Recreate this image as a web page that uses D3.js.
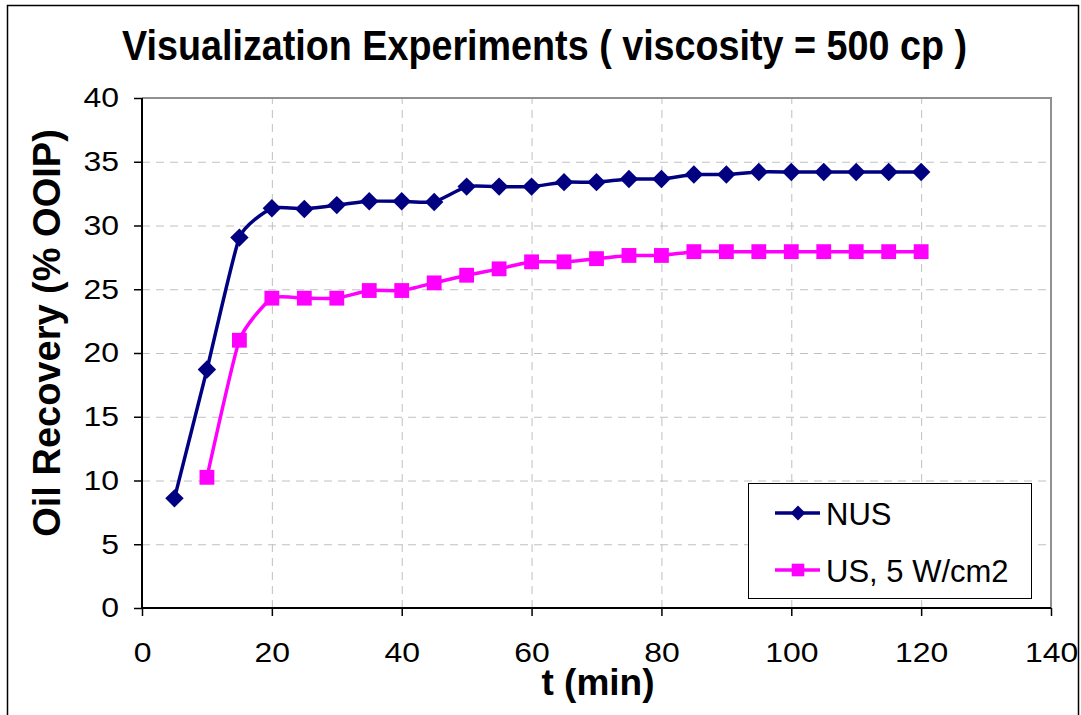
<!DOCTYPE html>
<html lang="en">
<head>
    <meta charset="UTF-8">
    <title>Visualization Experiments</title>
    <script src="https://d3js.org/d3.v7.min.js"></script>
    <style>
        body { margin: 0; background: #fff; }
        svg { font-family: Arial, "Liberation Sans", sans-serif; }
    </style>
</head>
<body>
    <div id="chart"></div>
    <script>
        // time in minutes
        const times = [5, 10, 15, 20, 25, 30, 35, 40, 45, 50, 55, 60, 65, 70, 75, 80, 85, 90, 95, 100, 105, 110, 115, 120];
        const nus = [8.6, 18.7, 29.05, 31.35, 31.3, 31.6, 31.9, 31.9, 31.85, 33.05, 33.05, 33.05, 33.4, 33.4, 33.65, 33.65, 34.0, 34.0, 34.2, 34.2, 34.2, 34.2, 34.2, 34.2];
        // US starts at t = 10
        const us = [null, 10.25, 21.0, 24.3, 24.3, 24.3, 24.9, 24.9, 25.5, 26.1, 26.6, 27.15, 27.15, 27.4, 27.65, 27.65, 27.95, 27.95, 27.95, 27.95, 27.95, 27.95, 27.95, 27.95];
        const xTicks = [0, 20, 40, 60, 80, 100, 120, 140];
        const yTicks = [0, 5, 10, 15, 20, 25, 30, 35, 40];

        const width = 1081;
        const height = 715;
        const margin = {top: 98, right: 30, bottom: 107, left: 142};

        const svg = d3.select("#chart").append("svg")
            .attr("width", width)
            .attr("height", height);

        // outer chart frame
        svg.append("rect")
            .attr("x", 7.5).attr("y", 5.5)
            .attr("width", 1071).attr("height", 720)
            .attr("fill", "none").attr("stroke", "#000").attr("stroke-width", 1.5);

        const x = d3.scaleLinear().domain([0, 140]).range([margin.left, 1051]);
        const y = d3.scaleLinear().domain([0, 40]).range([608, margin.top]);

        // grid
        const grid = svg.append("g").attr("stroke", "#c0c0c0").attr("stroke-dasharray", "8,6").attr("stroke-width", 1);
        grid.selectAll("line.h").data(yTicks.filter(d => d > 0 && d < 40)).join("line")
            .attr("x1", x(0)).attr("x2", x(140))
            .attr("y1", d => y(d) + 0.5).attr("y2", d => y(d) + 0.5);
        grid.selectAll("line.v").data(xTicks.filter(d => d > 0 && d < 140)).join("line")
            .attr("y1", y(0)).attr("y2", y(40))
            .attr("x1", d => x(d) + 0.5).attr("x2", d => x(d) + 0.5);

        // plot border (top and right)
        svg.append("path")
            .attr("d", `M${x(0)},${y(40)}H${x(140)}V${y(0)}`)
            .attr("fill", "none").attr("stroke", "#909090").attr("stroke-width", 2);

        // axes
        const xAxis = svg.append("g")
            .attr("transform", `translate(0,${y(0)})`)
            .call(d3.axisBottom(x).tickValues(xTicks).tickSize(8).tickPadding(26).tickFormat(d3.format("d")));
        const yAxis = svg.append("g")
            .attr("transform", `translate(${x(0)},0)`)
            .call(d3.axisLeft(y).tickValues(yTicks).tickSize(8).tickPadding(15).tickFormat(d3.format("d")));
        [xAxis, yAxis].forEach(a => {
            a.select(".domain").attr("stroke", "#000").attr("stroke-width", 2);
            a.selectAll(".tick line").attr("stroke", "#000").attr("stroke-width", 1.5);
            a.selectAll(".tick text").attr("fill", "#000").attr("font-size", 28)
                .attr("font-family", "Arial, 'Liberation Sans', sans-serif")
                .each(function() {
                    // the reference labels are a little wider than plain Arial
                    const w = this.getComputedTextLength();
                    d3.select(this).attr("textLength", w * 1.14).attr("lengthAdjust", "spacingAndGlyphs");
                });
        });
        xAxis.select(".domain").attr("d", `M${x(0)},0H${x(140)}`);
        yAxis.select(".domain").attr("d", `M0,${y(0)}V${y(40)}`);

        // series (diamond = square turned 45 degrees)
        const seriesList = [
            {name: "NUS", values: nus, color: "#000080", rot: 45, size: 170, legSize: 110},
            {name: "US, 5 W/cm2", values: us, color: "#ff00ff", rot: 0, size: 220, legSize: 160}
        ];

        const line = d3.line()
            .defined(d => d.v != null)
            .x(d => x(d.t)).y(d => y(d.v))
            .curve(d3.curveCardinal.tension(0.5));

        seriesList.forEach(s => {
            const pts = times.map((t, i) => ({t, v: s.values[i]})).filter(d => d.v != null);
            svg.append("path")
                .datum(pts)
                .attr("d", line)
                .attr("fill", "none")
                .attr("stroke", s.color)
                .attr("stroke-width", 3.5);
            svg.append("g").selectAll("path")
                .data(pts)
                .join("path")
                .attr("d", d3.symbol().type(d3.symbolSquare).size(s.size))
                .attr("transform", d => `translate(${x(d.t)},${y(d.v)}) rotate(${s.rot})`)
                .attr("fill", s.color);
        });

        // title
        svg.append("text")
            .attr("x", 122).attr("y", 60)
            .attr("font-size", 42).attr("font-weight", "bold")
            .attr("textLength", 845).attr("lengthAdjust", "spacingAndGlyphs")
            .text("Visualization Experiments ( viscosity = 500 cp )");

        // axis titles
        svg.append("text")
            .attr("x", 598).attr("y", 695)
            .attr("text-anchor", "middle")
            .attr("font-size", 37).attr("font-weight", "bold")
            .text("t (min)");
        svg.append("text")
            .attr("transform", `translate(60,333) rotate(-90)`)
            .attr("text-anchor", "middle")
            .attr("font-size", 38).attr("font-weight", "bold")
            .text("Oil Recovery (% OOIP)");

        // legend
        const legend = svg.append("g");
        legend.append("rect")
            .attr("x", 748.5).attr("y", 483.5)
            .attr("width", 283).attr("height", 115)
            .attr("fill", "#fff").attr("stroke", "#000").attr("stroke-width", 1);
        seriesList.forEach((s, i) => {
            const ly = 513 + i * 57;
            legend.append("line")
                .attr("x1", 775).attr("x2", 820)
                .attr("y1", ly).attr("y2", ly)
                .attr("stroke", s.color).attr("stroke-width", 3.5);
            legend.append("path")
                .attr("d", d3.symbol().type(d3.symbolSquare).size(s.legSize))
                .attr("transform", `translate(798,${ly}) rotate(${s.rot})`)
                .attr("fill", s.color);
            legend.append("text")
                .attr("x", 826).attr("y", ly + 12)
                .attr("font-size", 31)
                .text(s.name);
        });
    </script>
</body>
</html>
